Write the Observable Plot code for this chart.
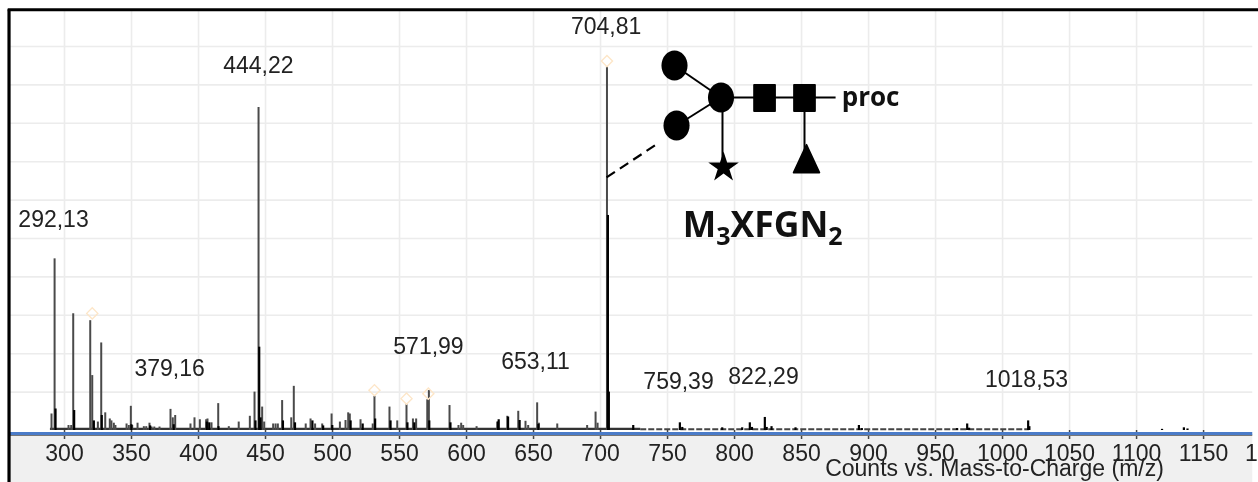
<!DOCTYPE html>
<html><head><meta charset="utf-8">
<script src="https://cdn.jsdelivr.net/npm/d3@7"></script>
<script src="https://cdn.jsdelivr.net/npm/@observablehq/plot@0.6"></script>
<style>html,body{margin:0;padding:0;background:#fff;overflow:hidden}svg{display:block}</style>
</head><body><div id="chart"></div>
<script>
// Spectrum peaks: m/z and relative height (1 unit = one horizontal gridline)
const greyMz = [290.3,292.6,303,305,306.5,319.2,320.7,324.9,327.4,330.4,333.8,335,336.8,338,346.3,348,349.5,350.5,354.5,359.2,361,363.4,365,367,370.9,379.1,380.8,382.6,394,397,401,405.7,406.7,409.7,414.7,422.6,430,438.3,441.8,444.8,447.5,449,455.7,457.5,459.2,462.4,469.2,471.1,480,483.6,487,492.3,499.3,505.5,509.7,511.7,512.9,520.9,530,531.3,542.5,548.3,555.2,560,562.4,570.7,571.9,587.3,594,596,597.5,607.5,622.9,630.4,638.6,644,646,652.7,654,667.7,690,696.3,697.8,704.8];
const greyH = [0.43,4.47,0.13,0.13,3.04,2.86,1.43,0.22,2.28,0.46,0.3,0.25,0.19,0.13,0.17,0.13,0.63,0.13,0.19,0.1,0.1,0.19,0.09,0.09,0.09,0.55,0.33,0.39,0.17,0.33,0.28,0.28,0.3,0.2,0.7,0.1,0.22,0.37,1.0,8.41,0.61,0.22,0.17,0.17,0.17,0.78,0.33,1.15,0.17,0.3,0.17,0.17,0.43,0.22,0.26,0.46,0.43,0.28,0.17,0.89,0.61,0.25,0.67,0.3,0.3,0.8,1.04,0.65,0.13,0.19,0.13,0.1,0.22,0.37,0.5,0.24,0.13,0.72,0.19,0.17,0.13,0.48,0.19,9.48];
const darkMz = [293.3,307.2,321.9,327.8,349.9,363.9,381.5,406.2,408,414.9,442.5,445.3,446.3,463,472,485,493,499.8,513.5,522.5,531.8,543.3,555.9,561,572.2,588,623.5,624,631,639.6,653.6,705.5,706.2,724.4,759.2,761,790.8,805.7,811.4,813,822.6,824,827.6,845.5,892.8,895,966,973.6,975,1019.1,1020,1119,1135.3,1138];
const darkH = [0.56,0.52,0.25,0.39,0.15,0.12,0.15,0.22,0.2,0.1,0.25,2.17,0.33,0.25,0.2,0.25,0.12,0.13,0.25,0.17,0.3,0.25,0.2,0.2,0.25,0.2,0.22,0.28,0.35,0.26,0.16,5.6,1.0,0.13,0.2,0.08,0.07,0.07,0.2,0.08,0.34,0.08,0.1,0.07,0.13,0.05,0.05,0.17,0.06,0.25,0.1,0.03,0.07,0.04];
// Open diamonds above selected precursors
const diamondMz = [320.7,531.3,555.2,571.5,704.8];
const diamondH = [3.05,1.05,0.83,0.96,9.62];
// Peak labels
const labelText = ["292,13","444,22","704,81","379,16","571,99","653,11","759,39","822,29","1018,53"];
const labelMz = [291.8,444.7,704.2,378.4,571.6,651.5,758.2,821.6,1017.9];
const labelH = [5.5,9.5,10.52,1.6,2.18,1.8,1.26,1.39,1.32];
// Axis
const xTicks = [300,350,400,450,500,550,600,650,700,750,800,850,900,950,1000,1050,1100,1150,1200];
const yGrid = [1,2,3,4,5,6,7,8,9,10];
// Glycan cartoon
const ovalMz = [755.2,756.7,789.9], ovalH = [9.505,7.943,8.672];
const squareMz = [822.4,852.2], squareH = [8.659,8.659];
const bondX1 = [755.2,756.7,789.9,791,852.2], bondY1 = [9.505,7.943,8.672,8.672,8.659];
const bondX2 = [789.9,789.9,875.4,791,852.2], bondY2 = [8.672,8.672,8.672,6.9,7.1];

const ellipse = {draw(c,s){const r=Math.sqrt(s/Math.PI),a=r*0.87,b=r,k=0.5523;
  c.moveTo(a,0);c.bezierCurveTo(a,k*b,k*a,b,0,b);c.bezierCurveTo(-k*a,b,-a,k*b,-a,0);
  c.bezierCurveTo(-a,-k*b,-k*a,-b,0,-b);c.bezierCurveTo(k*a,-b,a,-k*b,a,0);c.closePath();}};
const block = {draw(c,s){const r=Math.sqrt(s/Math.PI),a=r*0.8,b=r;
  c.moveTo(-a,-b);c.lineTo(a,-b);c.lineTo(a,b);c.lineTo(-a,b);c.closePath();}};
const wedge = {draw(c,s){const r=Math.sqrt(s/Math.PI);
  c.moveTo(0,-r);c.lineTo(r*0.93,r);c.lineTo(-r*0.93,r);c.closePath();}};

const subscripts = (index,scales,values,dims,ctx,next)=>{
  const g = next(index,scales,values,dims,ctx);
  d3.select(g).selectAll("text").html('M<tspan dy="8" font-size="25">3</tspan><tspan dy="-8">XFGN</tspan><tspan dy="8" font-size="25">2</tspan>');
  return g;
};

const sans = "Liberation Sans, Arial, sans-serif";
const chart = Plot.plot({
  width:1258, height:482,
  marginLeft:10, marginRight:4, marginTop:46, marginBottom:52,
  style:{background:"#fff", fontFamily:sans, filter:"blur(0.45px)"},
  x:{domain:[259.7,1188], axis:null},
  y:{domain:[0,10], axis:null},
  marks:[
    Plot.rect([0],{x1:259.7,x2:1186.7,y1:-0.1,y2:-1.4,fill:"#f0f0f0"}),
    Plot.ruleX(xTicks.filter(d=>d<1188),{x:d=>d,y1:0,y2:10.96,stroke:"#ececec",strokeWidth:1.6}),
    Plot.ruleY(yGrid,{y:d=>d,x1:259.7,x2:1186.7,stroke:"#ececec",strokeWidth:1.6}),
    Plot.axisX({ticks:xTicks,tickFormat:d=>String(d),label:null,tickSize:9,tickPadding:5,
      fontSize:23,stroke:"#444",fill:"#222",strokeWidth:1.5}),
    Plot.ruleY([0.04],{x1:289.5,x2:730,stroke:"#333",strokeWidth:2.2}),
    Plot.ruleY([0.03],{x1:730,x2:1020,stroke:"#444",strokeWidth:2,strokeDasharray:"6 2"}),
    Plot.ruleX(greyMz,{x:d=>d,y1:0,y2:(d,i)=>greyH[i],stroke:"#4a4a4a",strokeWidth:2}),
    Plot.ruleX(darkMz,{x:d=>d,y1:0,y2:(d,i)=>darkH[i],stroke:"#000",strokeWidth:2.2}),
    Plot.ruleY([-0.125],{x1:259.7,x2:1186.7,stroke:"#777",strokeWidth:1.6}),
    Plot.ruleY([-0.075],{x1:259.7,x2:1186.7,stroke:"#4a7bc8",strokeWidth:3}),
    Plot.dot(diamondMz,{x:d=>d,y:(d,i)=>diamondH[i],symbol:"diamond2",r:5,stroke:"#fde6c8",strokeWidth:1.4,fill:"none"}),
    Plot.text(labelText,{x:(d,i)=>labelMz[i],y:(d,i)=>labelH[i],text:d=>d,fontSize:23,fill:"#222"}),
    Plot.link(bondX1,{x1:d=>d,y1:(d,i)=>bondY1[i],x2:(d,i)=>bondX2[i],y2:(d,i)=>bondY2[i],stroke:"#000",strokeWidth:2}),
    Plot.link([704.5],{x1:d=>d,y1:6.59,x2:742.5,y2:7.47,stroke:"#000",strokeWidth:2.2,strokeDasharray:"10 6"}),
    Plot.dot(ovalMz,{x:d=>d,y:(d,i)=>ovalH[i],symbol:ellipse,r:15,fill:"#000"}),
    Plot.dot(squareMz,{x:d=>d,y:(d,i)=>squareH[i],symbol:block,r:13.5,fill:"#000",stroke:"#000",strokeWidth:1,strokeLinejoin:"round"}),
    Plot.dot([791.8],{x:d=>d,y:6.85,symbol:"star",r:9.6,fill:"#000"}),
    Plot.dot([853.7],{x:d=>d,y:7.08,symbol:wedge,r:14,fill:"#000",stroke:"#000",strokeLinejoin:"round"}),
    Plot.text(["proc"],{x:880,y:8.66,text:d=>d,textAnchor:"start",fontFamily:"Open Sans",fontWeight:700,fontSize:26,fill:"#111"}),
    Plot.text(["M3XFGN2"],{x:821,y:5.34,text:d=>d,fontFamily:"Open Sans",fontWeight:700,fontSize:35.5,fill:"#111",render:subscripts}),
    Plot.text(["Counts vs. Mass-to-Charge (m/z)"],{x:994,y:-0.99,text:d=>d,fontSize:23,fill:"#222"}),
    Plot.ruleY([10.96],{x1:258,x2:1195,stroke:"#000",strokeWidth:3}),
    Plot.ruleX([258.6],{y1:-1.4,y2:10.96,stroke:"#000",strokeWidth:3.2})
  ]
});
document.getElementById("chart").append(chart);
</script></body></html>
